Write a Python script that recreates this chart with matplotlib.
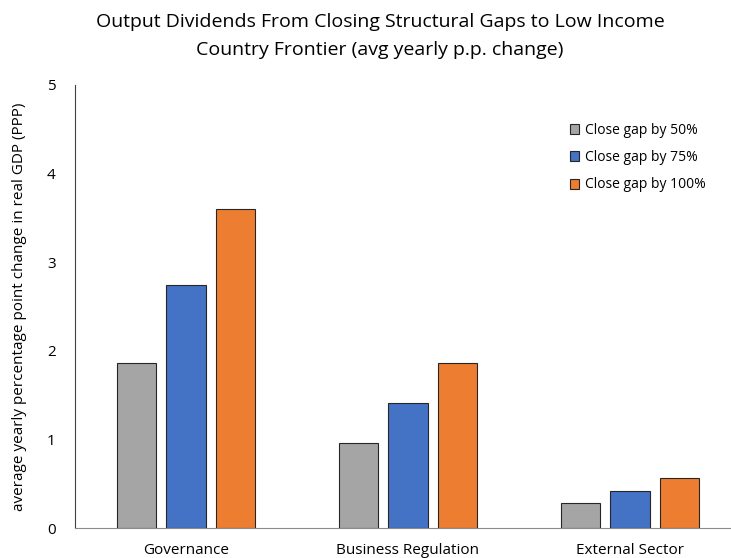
import matplotlib
matplotlib.use("Agg")
import matplotlib.pyplot as plt
import numpy as np

plt.rcParams['font.family'] = ['Open Sans', 'DejaVu Sans']

categories = ["Governance", "Business Regulation", "External Sector"]
series_names = ["Close gap by 50%", "Close gap by 75%", "Close gap by 100%"]
gap50 = [1.86, 0.96, 0.28]
gap75 = [2.74, 1.41, 0.42]
gap100 = [3.60, 1.86, 0.56]
colors = ["#A5A5A5", "#4472C4", "#ED7D31"]

W, H = 731, 558
fig = plt.figure(figsize=(W / 100, H / 100), dpi=100)
ax = fig.add_axes([75 / W, 30 / H, 666 / W, (528 - 85) / H])

x = np.arange(len(categories))
width = 0.176
step = 0.223
for i, (vals, name, c) in enumerate(zip([gap50, gap75, gap100], series_names, colors)):
    ax.bar(x + (i - 1) * step, vals, width, color=c, edgecolor="#262626",
           linewidth=0.8, label=name, zorder=2)

ax.set_xlim(-0.5, 2.5)
ax.set_ylim(0, 5)
ax.set_xticks(x)
ax.set_xticklabels(categories, fontsize=10.5, color="#000000")
ax.set_yticks(range(6))
ax.tick_params(axis='both', length=0, labelsize=11)
ax.tick_params(axis='y', pad=14)
ax.tick_params(axis='x', pad=11)
for s in ["top", "right"]:
    ax.spines[s].set_visible(False)
ax.spines["left"].set_color("#404040")
ax.spines["bottom"].set_color("#8c8c8c")
ax.set_ylabel("average yearly percentage point change in real GDP (PPP)",
              fontsize=11, labelpad=14)

fig.text(380 / W, 1 - 22 / H, "Output Dividends From Closing Structural Gaps to Low Income",
         ha="center", va="center", fontsize=14)
fig.text(380 / W, 1 - 50 / H, "Country Frontier (avg yearly p.p. change)",
         ha="center", va="center", fontsize=14)

ax.legend(loc="upper left", bbox_to_anchor=(557 / W, 1 - 110 / H),
          bbox_transform=fig.transFigure, frameon=False, fontsize=10,
          handlelength=0.7, handleheight=0.7, handletextpad=0.4, labelspacing=0.9)

fig.savefig("out.png", dpi=100)
